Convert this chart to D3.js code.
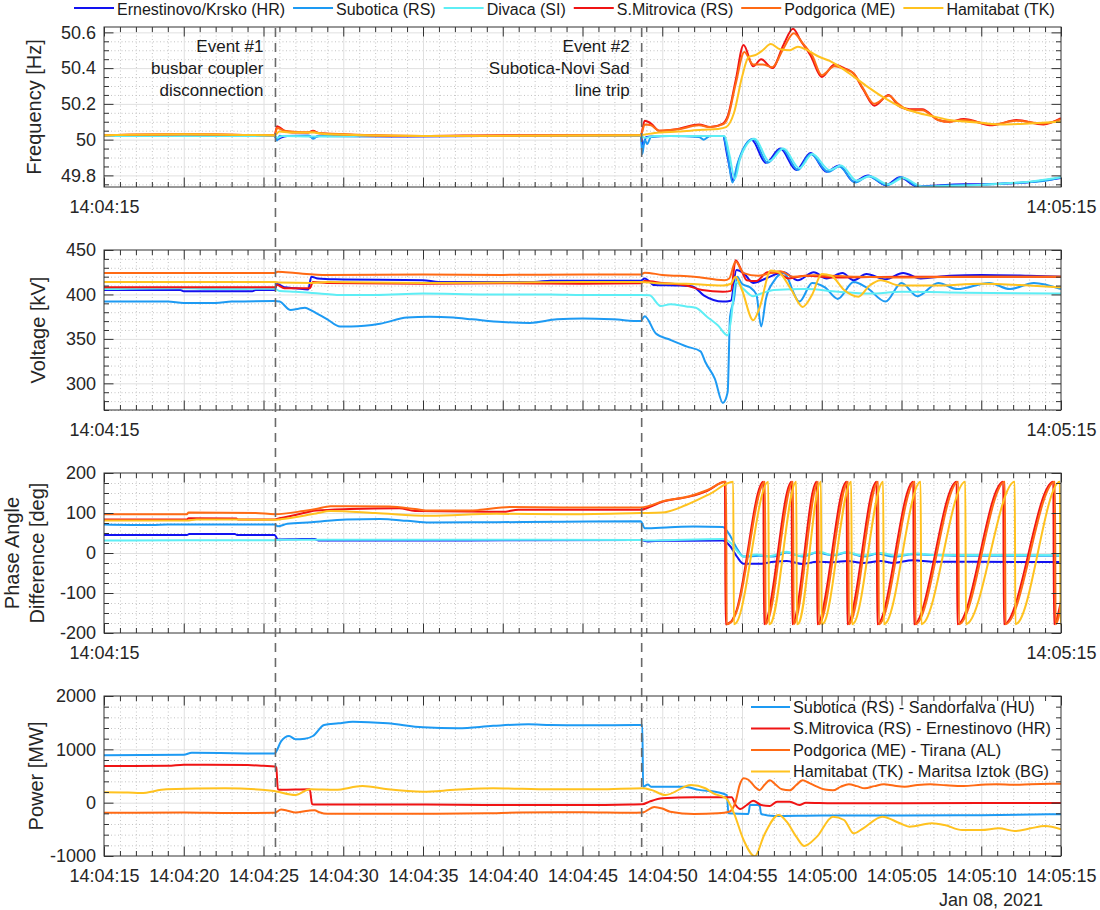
<!DOCTYPE html>
<html>
<head>
<meta charset="utf-8">
<script src="https://cdn.jsdelivr.net/npm/d3@7"></script>
<style>
  body { margin: 0; background: #fff; }
  svg { display: block; }
</style>
</head>
<body>
<div id="canvas"></div>
<script>
// ////////// DATA (time in seconds after 14:04:15) /////////////

var stations = ["Ernestinovo/Krsko (HR)", "Subotica (RS)", "Divaca (SI)", "S.Mitrovica (RS)", "Podgorica (ME)", "Hamitabat (TK)"]
var tieLines = ["Subotica (RS) - Sandorfalva (HU)", "S.Mitrovica (RS) - Ernestinovo (HR)", "Podgorica (ME) - Tirana (AL)", "Hamitabat (TK) - Maritsa Iztok (BG)"]

var events = [10.75, 33.71]
var eventTexts = [["Event #1", "busbar coupler", "disconnection"], ["Event #2", "Subotica-Novi Sad", "line trip"]]

var freqTicks = [49.8, 50, 50.2, 50.4, 50.6]
var voltTicks = [300, 350, 400, 450]
var phaseTicks = [-200, -100, 0, 100, 200]
var powerTicks = [-1000, 0, 1000, 2000]
var dateLabel = "Jan 08, 2021"

// frequency [Hz]
var freqErnestinovo = [[0,50.02],[4,50.02],[8,50.02],[10.7,50.02],[10.85,50.0],[11.1,50.012],[11.5,50.02],[12.8,50.022],[13.1,50.01],[13.5,50.02],[18,50.018],[25,50.02],[33.65,50.02],[33.8,49.97],[34.0,50.015],[35,50.02],[38.8,50.02],[39.1,49.9],[39.45,49.77],[39.8,49.88],[40.6,50.0],[41.5,49.87],[42.4,49.95],[43.4,49.83],[44.3,49.925],[45.3,49.82],[46.1,49.855],[47.0,49.765],[47.9,49.8],[49.0,49.745],[49.9,49.79],[51.0,49.737],[52.5,49.745],[54,49.75],[56,49.752],[58,49.762],[60,49.785]]
var freqSubotica = [[0,50.02],[5,50.02],[10.7,50.02],[10.85,49.995],[11.0,50.02],[12.9,50.022],[13.1,50.005],[13.4,50.02],[20,50.02],[33.65,50.02],[33.75,49.92],[33.9,50.0],[34.05,49.975],[34.3,50.015],[35.5,50.02],[37.3,50.015],[37.6,50.0],[38,50.02],[38.8,50.02],[39.1,49.92],[39.4,49.76],[39.7,49.86],[40.7,50.005],[41.6,49.87],[42.5,49.95],[43.5,49.83],[44.3,49.92],[45.4,49.82],[46.1,49.85],[47.1,49.76],[47.9,49.795],[49.1,49.745],[50.0,49.79],[51.1,49.735],[53,49.745],[55,49.748],[57,49.758],[59,49.77],[60,49.79]]
var freqDivaca = [[0,50.02],[10.7,50.02],[10.9,50.01],[11.2,50.02],[13,50.018],[20,50.02],[33.65,50.02],[33.9,50.01],[34.5,50.02],[38.9,50.02],[39.2,49.92],[39.55,49.78],[39.9,49.9],[40.8,50.005],[41.7,49.88],[42.6,49.95],[43.6,49.84],[44.4,49.92],[45.5,49.83],[46.2,49.855],[47.2,49.77],[48,49.795],[49.2,49.75],[50.1,49.785],[51.3,49.738],[53.5,49.742],[56,49.752],[58,49.765],[60,49.79]]
var freqMitrovica = [[0,50.025],[5,50.03],[10.7,50.025],[10.85,50.075],[11.3,50.05],[11.8,50.04],[12.8,50.04],[13.1,50.05],[13.5,50.035],[16,50.025],[20,50.02],[25,50.025],[33.65,50.025],[33.9,50.105],[34.3,50.09],[34.8,50.05],[36,50.06],[37.3,50.085],[38,50.07],[38.8,50.09],[39.1,50.13],[39.6,50.33],[40.1,50.53],[40.7,50.41],[41.2,50.45],[41.9,50.40],[42.6,50.53],[43.2,50.62],[43.7,50.55],[44.3,50.47],[45.0,50.35],[45.8,50.42],[46.4,50.4],[47.0,50.37],[47.6,50.28],[48.3,50.19],[49.2,50.25],[49.8,50.19],[50.5,50.17],[51.3,50.17],[52.3,50.11],[53.0,50.1],[53.9,50.115],[55.7,50.08],[57.2,50.11],[58.9,50.085],[60,50.12]]
var freqPodgorica = [[0,50.025],[5,50.03],[10.7,50.025],[10.85,50.065],[11.3,50.05],[12.8,50.04],[13.1,50.045],[13.5,50.035],[20,50.02],[33.65,50.025],[33.9,50.085],[34.3,50.08],[34.8,50.05],[36,50.058],[37.3,50.08],[38,50.07],[38.8,50.085],[39.1,50.12],[39.6,50.31],[40.15,50.49],[40.7,50.42],[41.3,50.42],[41.9,50.405],[42.6,50.51],[43.25,50.595],[43.8,50.54],[44.4,50.47],[45.0,50.36],[45.8,50.41],[46.4,50.395],[47.0,50.37],[47.6,50.285],[48.3,50.2],[49.2,50.245],[49.8,50.2],[50.5,50.165],[51.3,50.165],[52.3,50.11],[53,50.1],[53.9,50.11],[55.7,50.085],[57.2,50.105],[58.9,50.09],[60,50.115]]
var freqHamitabat = [[0,50.025],[5,50.03],[10.7,50.025],[11.0,50.045],[11.6,50.04],[13.1,50.04],[14,50.03],[20,50.02],[33.65,50.025],[34,50.03],[34.8,50.04],[36,50.045],[37.5,50.055],[38.5,50.06],[39.0,50.07],[39.5,50.15],[40.0,50.35],[40.4,50.46],[40.9,50.475],[41.3,50.5],[41.8,50.535],[42.4,50.505],[43.0,50.5],[43.5,50.52],[44.2,50.495],[44.8,50.465],[45.5,50.44],[46.5,50.385],[47.8,50.3],[48.8,50.24],[49.9,50.185],[51,50.15],[52,50.13],[53,50.11],[55,50.095],[56.2,50.085],[58,50.09],[60,50.1]]

// voltage [kV]
var voltErnestinovo = [[0,405],[4.8,405],[5,403.5],[9.3,403.5],[9.5,405],[10.7,405],[10.85,412],[11.3,408],[12.0,407],[12.8,405.5],[13.0,420],[13.4,418],[14.5,417],[20,416],[21,414],[27,414],[28,415.5],[33.65,415.5],[33.9,418],[34.5,410.5],[36,410],[36.9,409],[37.6,399],[38.8,392],[39.3,393],[39.65,427.5],[40.1,424],[40.7,413],[41.5,418],[42.6,425],[43.5,416],[44.5,425],[45.3,418],[46.3,424],[47,416],[47.8,423],[49,417],[50.1,424],[51.2,418],[53,421],[55,422],[58,421],[60,420]]
var voltSubotica = [[0,392],[4,392],[5,390.5],[7,390.5],[8,392],[10.7,392.5],[11.0,392],[11.7,382.5],[12.2,384],[12.6,385],[13,382],[13.3,379],[14.0,372],[14.8,364],[15.5,364],[17.3,367],[19,374],[20.4,375],[21.9,374],[23.1,372],[25,369],[26.7,368],[28.4,372],[30,373],[31.9,372],[33.65,370],[33.9,375.6],[34.6,356],[35.5,349],[36.6,341],[37.4,336],[37.7,324],[38.3,305],[38.8,278],[39.1,290],[39.25,375],[39.5,395],[39.7,420],[40.0,412],[40.5,408],[40.9,400],[41.2,364],[41.5,395],[42.0,415],[42.6,424],[43.6,392],[44.4,413],[45.2,408],[46.0,395],[47.0,414],[47.8,408],[49.0,392],[50.0,413],[51.0,398],[52.3,413],[53.5,406],[55.5,413],[56.8,406],[58.3,413],[60,406]]
var voltDivaca = [[0,406],[5,407],[7,406],[10.7,406.5],[11,404],[12,403],[13.5,401],[14.6,399.5],[17,399.5],[20,401],[24,400],[28,400],[30,399.5],[33.65,399.5],[34.2,399],[34.9,387],[35.5,389],[36.5,386.5],[37.1,385],[37.8,375],[38.5,365],[39.1,354],[39.3,370],[39.6,414],[40.1,406],[40.7,398],[41.2,401],[42.0,405],[44,406],[46,403],[48,401],[50,403],[54,402],[60,401]]
var voltMitrovica = [[0,408],[10.7,408],[10.85,410.5],[11.3,407],[12.9,407],[13.1,414],[14,413],[20,412],[25,412.5],[30,412],[33.65,412.5],[33.9,415],[35,413],[36.5,410],[37.5,405],[38.8,403],[39.3,404],[39.6,438.5],[40.0,425.6],[40.3,416],[40.9,415],[41.6,425],[42.3,424],[42.9,418],[44,421],[46,419],[50,420],[55,420],[60,420]]
var voltPodgorica = [[0,424],[10.7,424],[10.9,425.5],[12,424],[14,422],[20,422.5],[25,422],[30,422.5],[33.65,422.5],[33.9,424.5],[35,422],[37,420],[38.9,416],[39.2,418],[39.6,437],[40.1,424],[41,421],[41.8,424],[42.4,426],[43.2,420],[44.5,421.5],[47,420],[50,419],[55,420],[60,420]]
var voltHamitabat = [[0,414],[10.7,414],[11,413.5],[13,413],[14,414],[20,413],[25,413.5],[30,414],[33.65,414],[34.5,413],[36.5,412],[38.8,410],[39.3,412],[39.6,420],[40.0,405],[40.7,371],[41.1,385],[41.8,427],[42.3,425],[43.1,405],[43.8,386],[44.4,400],[45,423],[45.6,421],[46.4,405],[47.3,397.5],[48,410],[48.7,416],[49.9,410],[52,410],[55,412],[58,410],[60,408]]

// phase angle difference [deg]
var phaseErnestinovo = [[0,45],[5.2,45],[5.35,47.5],[8.2,47.5],[8.35,45],[10.7,45],[10.9,34],[12,34.5],[13.2,35],[13.5,31],[20,31],[25,32],[33.65,32.5],[34.1,29],[35,30.5],[38.8,31],[39.3,15],[39.7,-10],[40.1,-27],[41.1,-27],[42,-22],[42.8,-20],[43.8,-27.5],[44.7,-22],[45.7,-23],[46.6,-20],[47.6,-25],[48.7,-20],[49.5,-25],[50.7,-18],[52,-22],[54,-22],[60,-22.5]]
var phaseSubotica = [[0,71.5],[3,70],[4,71.5],[10.7,71],[10.9,67],[11.5,73],[13,77],[15.2,84],[17.3,85],[19,80.5],[20.4,76],[24.6,77],[28.8,78],[33.65,79.5],[33.9,62],[35.5,64.5],[37,66],[38.8,65],[39.3,40],[39.7,10],[40.1,-9],[41.1,-7],[42,-9],[42.8,1],[43.8,-9],[44.7,1],[45.7,-6],[46.6,1],[47.6,-9],[48.5,-2],[49.5,-9],[50.7,-3],[52,-5],[54,-7],[60,-7]]
var phaseDivaca = [[0,31],[5,32],[10.7,32],[11,33],[20,33],[33.65,32.5],[34.1,31],[38.8,35],[39.3,25],[39.7,5],[40.1,-9],[40.9,-4],[41.7,-8],[42.8,3],[43.6,-7],[44.9,3],[45.6,-5],[46.6,2],[47.5,-6],[48.7,0],[49.6,-6],[51,-1],[52,-5],[54,-5],[60,-5.5]]
var phaseMitrovica = [[0,84],[5.2,84],[5.3,87],[8.3,86],[8.4,84],[10.7,84],[11,87],[12,95],[13.3,106],[15.4,110],[18.5,112],[19.5,105],[25,103],[26,108],[33.65,108],[34.2,115],[35,128],[36.7,141],[37.8,155],[38.93,178],[38.97,-178],[39.3,-172],[39.6,-150],[41.34,178],[41.38,-178],[43.11,178],[43.15,-178],[44.68,178],[44.72,-178],[46.56,178],[46.6,-178],[48.44,178],[48.48,-178],[50.74,178],[50.78,-178],[53.46,178],[53.5,-178],[56.38,178],[56.42,-178],[59.52,178],[59.56,-178],[60,-120]]
var phasePodgorica = [[0,97],[5.2,97],[5.3,101],[9.5,100],[10.7,97],[12.5,105],[13.3,110],[14.2,117],[17.9,116],[19.5,110],[20.4,106],[22.9,106],[25.5,115],[28.8,114],[33.65,114],[34.2,118],[35,129],[36.7,142],[37.8,157],[39.0,178],[39.04,-178],[39.35,-172],[39.65,-148],[41.44,178],[41.48,-178],[43.2,178],[43.24,-178],[44.78,178],[44.82,-178],[46.66,178],[46.7,-178],[48.54,178],[48.58,-178],[50.84,178],[50.88,-178],[53.56,178],[53.6,-178],[56.48,178],[56.52,-178],[59.62,178],[59.66,-178],[60,-130]]
var phaseHamitabat = [[0,81],[5.2,81],[5.8,84],[10.7,83],[11.2,85],[13.3,99],[14.2,105],[17,100],[20.4,93],[24.6,98],[28.8,97],[33.65,100],[35,101],[36.5,120],[38,148],[39.45,178],[39.49,-178],[39.6,-176],[41.65,178],[41.69,-178],[41.8,-176],[43.4,178],[43.44,-178],[43.55,-176],[44.95,178],[44.99,-178],[45.1,-176],[46.85,178],[46.89,-178],[47.0,-176],[48.85,178],[48.89,-178],[49.0,-176],[51.2,178],[51.24,-178],[51.35,-176],[54.0,178],[54.04,-178],[54.15,-176],[57.1,178],[57.14,-178],[57.25,-176],[59.93,178],[59.97,-178],[60,-176]]

// power [MW]
var powerSubotica = [[0,890],[5,900],[5.5,935],[10.7,920],[10.8,960],[11.1,1150],[11.6,1250],[12.0,1190],[12.6,1200],[13.1,1250],[13.8,1456],[14.7,1487],[15.6,1519],[17.8,1487],[20,1412],[22.2,1394],[24.4,1440],[26.6,1470],[28,1456],[30,1450],[33.75,1456],[33.8,300],[34.1,340],[34.3,300],[36.4,300],[37.3,240],[38.4,200],[39.05,140],[39.15,-200],[40.4,-212],[40.5,-44],[41.1,-44],[41.2,-212],[42,-250],[45,-240],[50,-240],[55,-235],[60,-215]]
var powerMitrovica = [[0,687],[4,690],[5,710],[9,705],[10,690],[10.7,680],[10.8,660],[10.9,250],[11.1,240],[12.9,250],[13.05,-30],[13.3,-35],[20,-35],[24,-45],[30,-45],[33,-35],[33.75,-30],[34.2,20],[35,82],[37,100],[39.35,100],[39.6,-44],[39.9,-119],[40.3,-44],[40.7,37],[41.2,-44],[41.75,-62],[42.2,19],[43,19],[43.6,-44],[44,-2],[45.7,-12],[50,-10],[60,-5]]
var powerPodgorica = [[0,-190],[5,-185],[8,-195],[10.7,-190],[11.1,-130],[11.5,-150],[12,-185],[12.8,-150],[13.2,-140],[13.5,-180],[14,-210],[20,-210],[24,-200],[26,-185],[30,-180],[33,-190],[33.75,-185],[34.5,-80],[35,-110],[35.5,-170],[37,-212],[38.5,-200],[39.2,-170],[39.6,20],[39.85,330],[40.1,460],[40.4,430],[40.8,300],[41.1,235],[41.4,330],[41.75,419],[42.1,340],[42.5,250],[43,231],[43.4,330],[43.8,419],[44.2,370],[44.7,300],[45.2,245],[45.7,231],[46.2,300],[46.7,344],[47.2,310],[47.7,269],[48.3,310],[48.9,344],[49.5,320],[50.2,300],[51,330],[51.8,344],[52.8,325],[53.9,312],[55,335],[56,344],[57,335],[58.1,344],[60,356]]
var powerHamitabat = [[0,195],[1.5,190],[2.3,180],[3.9,250],[7.6,270],[10.4,230],[10.8,210],[12,144],[12.9,250],[14.5,240],[16.2,313],[17.8,250],[20,206],[22,240],[24.4,270],[28,250],[31,250],[33.8,270],[34.3,240],[35.2,144],[36.8,331],[37.7,270],[38.2,175],[38.8,112],[39.0,81],[39.5,-200],[40.1,-700],[40.8,-1005],[41.4,-600],[42.3,-231],[42.8,-356],[43.4,-637],[43.9,-812],[44.7,-637],[45.7,-262],[46.4,-325],[47.0,-575],[47.6,-481],[48.8,-262],[49.9,-387],[50.5,-450],[51.9,-387],[52.7,-419],[53.8,-512],[55,-512],[56.1,-481],[57.1,-531],[58.1,-481],[59,-437],[60,-500]]


///////// GLOBAL VARS //////////

var FONT = "'Liberation Sans', Arial, Helvetica, sans-serif"
var width = 1100, height = 910,
  plotLeft = 104, plotRight = 1061, panelH = 160

var stationColor = d3.scaleOrdinal()
  .domain(stations)
  .range(["#1212f0", "#1d9af3", "#5eeef5", "#f01414", "#ff6a14", "#ffc21f"])

var lineColor = d3.scaleOrdinal()
  .domain(tieLines)
  .range(["#1d9af3", "#f01414", "#ff6a14", "#ffc21f"])

var t0 = new Date(2021, 0, 8, 14, 4, 15),
  t1 = new Date(2021, 0, 8, 14, 5, 15)
function toTime(s) { return new Date(t0.getTime() + s * 1000) }

var x = d3.scaleTime()
  .domain([t0, t1])
  .range([plotLeft, plotRight])

var fmtTime = d3.timeFormat("%H:%M:%S")
var majorSecs = d3.timeSecond.every(5).range(t0, toTime(60.5))
var minorSecs = d3.timeSecond.every(1).range(t0, toTime(60.5)).filter(d => d.getSeconds() % 5 != 0)

var panels = [
  { top: 27, domain: [49.735, 50.63], ticks: freqTicks, minor: 0.05, label: ["Frequency [Hz]"], labelX: [41], allLabels: false,
    series: [freqErnestinovo, freqSubotica, freqDivaca, freqMitrovica, freqPodgorica, freqHamitabat], names: stations, color: stationColor },
  { top: 250, domain: [270, 450], ticks: voltTicks, minor: 10, label: ["Voltage [kV]"], labelX: [45], allLabels: false,
    series: [voltErnestinovo, voltSubotica, voltDivaca, voltMitrovica, voltPodgorica, voltHamitabat], names: stations, color: stationColor },
  { top: 473, domain: [-200, 200], ticks: phaseTicks, minor: 25, label: ["Phase Angle", "Difference [deg]"], labelX: [19, 43.5], allLabels: false,
    series: [phaseErnestinovo, phaseSubotica, phaseDivaca, phaseMitrovica, phasePodgorica, phaseHamitabat], names: stations, color: stationColor },
  { top: 696, domain: [-1000, 2000], ticks: powerTicks, minor: 200, label: ["Power [MW]"], labelX: [43], allLabels: true,
    series: [powerSubotica, powerMitrovica, powerPodgorica, powerHamitabat], names: tieLines, color: lineColor }
]

var svg = d3.select("#canvas")
  .append("svg")
  .attr("width", width)
  .attr("height", height)
  .style("background-color", "#fff")
  .attr("font-family", FONT)

// style an axis group after d3 drew it
function styleAxis(g) {
  g.select(".domain").remove()
  g.attr("font-family", FONT).attr("font-size", 18).attr("color", "#333")
  g.selectAll("text").attr("fill", "#262626")
}

panels.forEach(function (p, pi) {
  var y = d3.scaleLinear()
    .domain(p.domain)
    .range([p.top + panelH, p.top])

  var g = svg.append("g")

  var minorY = d3.range(Math.ceil(p.domain[0] / p.minor), Math.floor(p.domain[1] / p.minor) + 1)
    .map(k => +(k * p.minor).toFixed(4))
    .filter(v => p.ticks.indexOf(v) < 0)

  // minor grid (dotted)
  g.append("g")
    .attr("transform", `translate(0,${p.top + panelH})`)
    .call(d3.axisBottom(x).tickValues(minorSecs).tickSize(-panelH).tickFormat(""))
    .call(a => a.select(".domain").remove())
    .selectAll("line").attr("stroke", "#c4c4c4").attr("stroke-dasharray", "1,2.5")

  g.append("g")
    .attr("transform", `translate(${plotLeft},0)`)
    .call(d3.axisLeft(y).tickValues(minorY).tickSize(-(plotRight - plotLeft)).tickFormat(""))
    .call(a => a.select(".domain").remove())
    .selectAll("line").attr("stroke", "#c4c4c4").attr("stroke-dasharray", "1,2.5")

  // major grid
  g.append("g")
    .attr("transform", `translate(0,${p.top + panelH})`)
    .call(d3.axisBottom(x).tickValues(majorSecs.slice(1, -1)).tickSize(-panelH).tickFormat(""))
    .call(a => a.select(".domain").remove())
    .selectAll("line").attr("stroke", "#e0e0e0")

  g.append("g")
    .attr("transform", `translate(${plotLeft},0)`)
    .call(d3.axisLeft(y).tickValues(p.ticks.filter(v => v > p.domain[0] && v < p.domain[1])).tickSize(-(plotRight - plotLeft)).tickFormat(""))
    .call(a => a.select(".domain").remove())
    .selectAll("line").attr("stroke", "#e0e0e0")

  // lines, clipped to the plot box
  svg.append("clipPath")
    .attr("id", "clip" + pi)
    .append("rect")
    .attr("x", plotLeft)
    .attr("y", p.top)
    .attr("width", plotRight - plotLeft)
    .attr("height", panelH)

  var line = d3.line()
    .x(d => x(toTime(d[0])))
    .y(d => y(d[1]))
    .curve(d3.curveMonotoneX)

  // legend background goes under the lines so the peaks below it stay visible
  if (p.allLabels) {
    g.append("rect")
      .attr("x", 745)
      .attr("y", 697)
      .attr("width", 312)
      .attr("height", 79)
      .attr("fill", "#fff")
  }

  g.append("g")
    .attr("clip-path", `url(#clip${pi})`)
    .selectAll("path")
    .data(p.series)
    .join("path")
    .attr("d", line)
    .attr("fill", "none")
    .attr("stroke", (d, i) => p.color(p.names[i]))
    .attr("stroke-width", 2)
    .attr("stroke-linejoin", "round")

  // legend inside the power panel
  if (p.allLabels) {
    var leg = g.append("g")
    p.names.forEach(function (name, i) {
      var cy = 707 + i * 21.5
      leg.append("line")
        .attr("x1", 751).attr("x2", 790)
        .attr("y1", cy).attr("y2", cy)
        .attr("stroke", p.color(name))
        .attr("stroke-width", 2)
      leg.append("text")
        .attr("x", 793)
        .attr("y", cy + 5.8)
        .attr("font-size", 16.3)
        .attr("fill", "#1a1a1a")
        .text(name)
    })
  }

  // ticks on all four sides, pointing inward
  g.append("g")
    .attr("transform", `translate(0,${p.top + panelH})`)
    .call(d3.axisBottom(x).tickValues(majorSecs).tickSize(-9.5).tickPadding(13)
      .tickFormat(d => (p.allLabels || +d == +t0 || +d == +t1) ? fmtTime(d) : ""))
    .call(styleAxis)
  g.append("g")
    .attr("transform", `translate(0,${p.top + panelH})`)
    .call(d3.axisBottom(x).tickValues(minorSecs).tickSize(-5).tickFormat(""))
    .call(styleAxis)
  g.append("g")
    .attr("transform", `translate(0,${p.top})`)
    .call(d3.axisTop(x).tickValues(majorSecs).tickSize(-9.5).tickFormat(""))
    .call(styleAxis)
  g.append("g")
    .attr("transform", `translate(0,${p.top})`)
    .call(d3.axisTop(x).tickValues(minorSecs).tickSize(-5).tickFormat(""))
    .call(styleAxis)
  g.append("g")
    .attr("transform", `translate(${plotLeft},0)`)
    .call(d3.axisLeft(y).tickValues(p.ticks).tickSize(-9.5).tickPadding(8).tickFormat(d => String(d)))
    .call(styleAxis)
  g.append("g")
    .attr("transform", `translate(${plotLeft},0)`)
    .call(d3.axisLeft(y).tickValues(minorY).tickSize(-5).tickFormat(""))
    .call(styleAxis)
  g.append("g")
    .attr("transform", `translate(${plotRight},0)`)
    .call(d3.axisRight(y).tickValues(p.ticks).tickSize(-9.5).tickFormat(""))
    .call(styleAxis)
  g.append("g")
    .attr("transform", `translate(${plotRight},0)`)
    .call(d3.axisRight(y).tickValues(minorY).tickSize(-5).tickFormat(""))
    .call(styleAxis)

  // box
  g.append("rect")
    .attr("x", plotLeft)
    .attr("y", p.top)
    .attr("width", plotRight - plotLeft)
    .attr("height", panelH)
    .attr("fill", "none")
    .attr("stroke", "#333")
    .attr("stroke-width", 1)

  // y label
  var cy = p.top + panelH / 2
  p.label.forEach(function (txt, i) {
    g.append("text")
      .attr("transform", `translate(${p.labelX[i]},${cy}) rotate(-90)`)
      .attr("text-anchor", "middle")
      .attr("font-size", 20)
      .attr("fill", "#262626")
      .text(txt)
  })
})

// date under the last axis
svg.append("text")
  .attr("x", 1043)
  .attr("y", 906)
  .attr("text-anchor", "end")
  .attr("font-size", 18)
  .attr("fill", "#262626")
  .text(dateLabel)

// event markers across all panels
events.forEach(function (ev, i) {
  var ex = x(toTime(ev))
  svg.append("line")
    .attr("x1", ex).attr("x2", ex)
    .attr("y1", 28).attr("y2", 857)
    .attr("stroke", "#6a6a6a")
    .attr("stroke-width", 1.6)
    .attr("stroke-dasharray", "9,6")

  eventTexts[i].forEach(function (txt, j) {
    svg.append("text")
      .attr("x", ex - 12)
      .attr("y", 52 + j * 22)
      .attr("text-anchor", "end")
      .attr("font-size", 17)
      .attr("fill", "#1a1a1a")
      .text(txt)
  })
})

// top legend (horizontal)
var topLegend = svg.append("g")
var lx = 74
stations.forEach(function (name) {
  topLegend.append("line")
    .attr("x1", lx).attr("x2", lx + 40)
    .attr("y1", 8).attr("y2", 8)
    .attr("stroke", stationColor(name))
    .attr("stroke-width", 2)
  var t = topLegend.append("text")
    .attr("x", lx + 43)
    .attr("y", 14.5)
    .attr("font-size", 16)
    .attr("fill", "#1a1a1a")
    .text(name)
  lx += 43 + t.node().getComputedTextLength() + 8
})
</script>
</body>
</html>
